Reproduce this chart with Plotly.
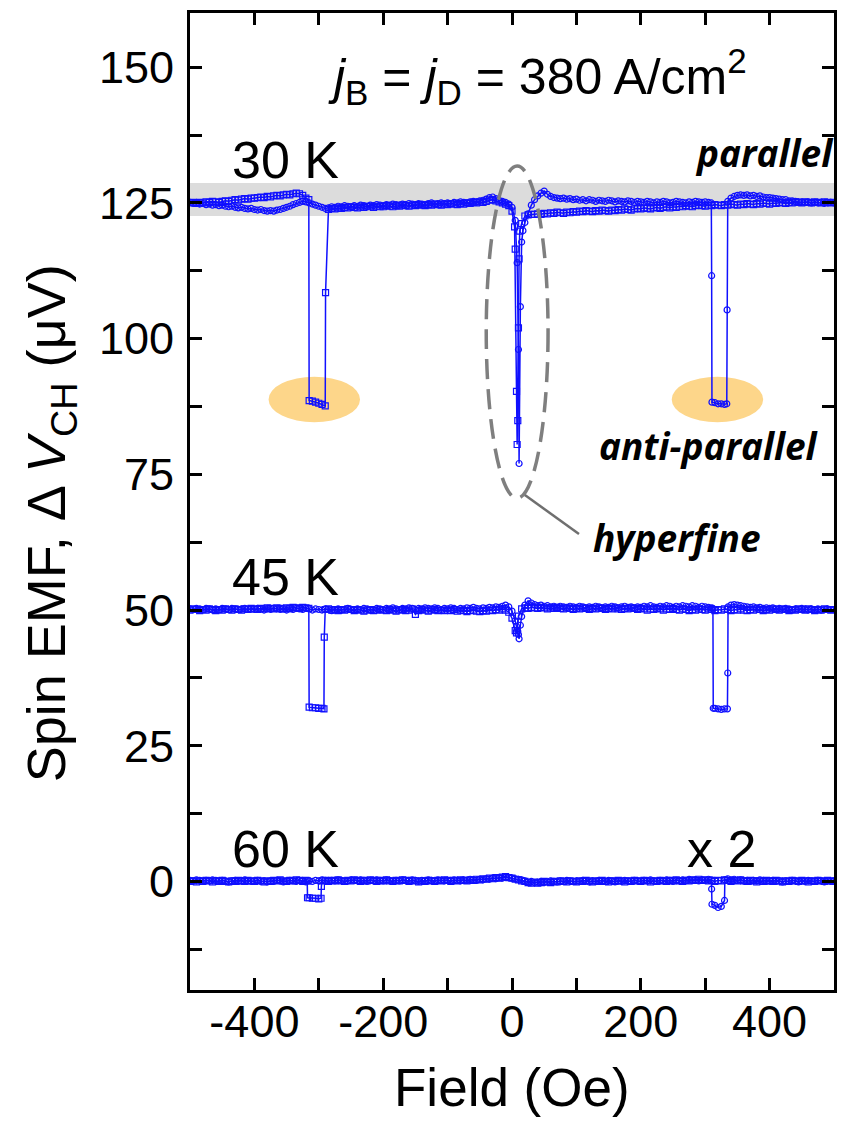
import plotly.graph_objects as go

# Field set-points of each sweep (Oe)
FIELD = [
    -500, -495, -490, -485, -480, -475, -470, -465, -460, -455, -450, -445, -440, -435, -430, -425, -420, -415, -410, -405,
    -400, -395, -390, -385, -380, -375, -370, -365, -360, -355, -350, -345, -340, -335, -330, -325, -320, -315, -310, -305,
    -300, -295, -290, -285, -280, -275, -270, -265, -260, -255, -250, -245, -240, -235, -230, -225, -220, -215, -210, -205,
    -200, -195, -190, -185, -180, -175, -170, -165, -160, -155, -150, -145, -140, -135, -130, -125, -120, -115, -110, -105,
    -100, -95, -90, -85, -80, -75, -70, -65, -60, -55, -50, -45, -40, -35, -30, -25, -20, -15, -10, -5,
    0, 5, 10, 15, 20, 25, 30, 35, 40, 45, 50, 55, 60, 65, 70, 75, 80, 85, 90, 95,
    100, 105, 110, 115, 120, 125, 130, 135, 140, 145, 150, 155, 160, 165, 170, 175, 180, 185, 190, 195,
    200, 205, 210, 215, 220, 225, 230, 235, 240, 245, 250, 255, 260, 265, 270, 275, 280, 285, 290, 295,
    300, 305, 310, 315, 320, 325, 330, 335, 340, 345, 350, 355, 360, 365, 370, 375, 380, 385, 390, 395,
    400, 405, 410, 415, 420, 425, 430, 435, 440, 445, 450, 455, 460, 465, 470, 475, 480, 485, 490, 495,
    500,
]

# ---- 30 K (offset 125 uV) ----
UP_30K = [
    125.1, 124.9, 125.0, 124.8, 124.9, 124.7, 124.8, 124.6, 124.7, 124.5, 124.6, 124.4, 124.3, 124.4, 124.2, 124.1, 124.2, 124.0, 123.9, 124.0,
    123.8, 123.7, 123.8, 123.6, 123.5, 123.6, 123.5, 123.7, 123.8, 124.0, 124.2, 124.4, 124.7, 124.9, 125.1, 125.3, 125.2, 125.0, 124.8, 124.6,
    124.4, 124.2, 124.0, 124.1, 124.3, 124.2, 124.4, 124.3, 124.5, 124.4, 124.3, 124.5, 124.4, 124.6, 124.5, 124.4, 124.6, 124.5, 124.7, 124.6,
    124.5, 124.7, 124.6, 124.8, 124.7, 124.6, 124.8, 124.7, 124.9, 124.8, 124.7, 124.9, 124.8, 124.7, 124.9, 125.0, 124.8, 124.9, 125.0, 124.9,
    125.0, 124.9, 125.1, 125.0, 125.2, 125.1, 125.0, 125.2, 125.3, 125.2, 125.4, 125.5, 125.7, 126.0, 126.1, 125.8, 125.5, 125.3, 125.1, 124.8,
    124.2, 121.8, 98.0, 117.8, 121.4, 123.0, 124.6, 125.6, 126.3, 126.8, 127.2, 126.6, 126.2, 126.0, 125.9, 125.8, 125.9, 125.7, 125.8, 125.6,
    125.7, 125.5, 125.6, 125.4, 125.6, 125.5, 125.3, 125.5, 125.4, 125.3, 125.5, 125.4, 125.2, 125.4, 125.3, 125.2, 125.4, 125.3, 125.1, 125.3,
    125.2, 125.1, 125.3, 125.2, 125.0, 125.2, 125.1, 125.3, 125.2, 125.0, 125.1, 125.3, 125.2, 125.1, 125.0, 125.2, 125.1, 125.3, 125.2, 125.1,
    125.2, 125.1, 111.6, 88.2, 88.0, 88.0, 87.9, 125.3, 125.9, 126.2, 126.4, 126.5, 126.4, 126.5, 126.3, 126.4, 126.2, 126.3, 126.1, 126.0,
    126.0, 125.9, 125.8, 125.7, 125.6, 125.6, 125.4, 125.4, 125.3, 125.2, 125.2, 125.1, 125.2, 125.0, 125.1, 125.0, 125.1, 124.9, 125.0, 125.1,
    125.0,
]
UP_30K_EXTRA_X = [8, 11, 13, 17, 309.5, 310.5, 333.5, 334]
UP_30K_EXTRA_Y = [114.0, 77.0, 105.9, 119.9, 125.0, 88.3, 88.0, 105.3]

DOWN_30K = [
    125.0, 125.1, 124.9, 125.1, 125.0, 125.2, 125.1, 125.3, 125.2, 125.1, 125.3, 125.4, 125.3, 125.5, 125.6, 125.5, 125.7, 125.8, 125.7, 125.9,
    125.9, 126.0, 126.1, 126.0, 126.2, 126.1, 126.3, 126.4, 126.3, 126.5, 126.6, 126.5, 126.7, 126.8, 126.7, 126.4, 125.9, 88.6, 88.5, 88.3,
    88.1, 87.9, 87.6, 123.8, 124.0, 123.9, 124.1, 124.0, 124.2, 124.1, 124.3, 124.2, 124.1, 124.3, 124.2, 124.4, 124.3, 124.2, 124.4, 124.3,
    124.3, 124.5, 124.4, 124.3, 124.5, 124.4, 124.6, 124.5, 124.4, 124.6, 124.5, 124.7, 124.6, 124.5, 124.7, 124.6, 124.8, 124.7, 124.6, 124.8,
    124.7, 124.9, 124.8, 124.7, 124.9, 124.8, 125.0, 124.9, 125.1, 125.0, 125.2, 125.1, 125.3, 125.5, 125.6, 125.4, 125.2, 125.0, 124.8, 124.5,
    123.5, 116.5, 102.0, 121.2, 122.6, 122.8, 122.9, 122.9, 123.0, 122.9, 123.1, 123.0, 123.2, 123.1, 123.3, 123.2, 123.1, 123.3, 123.2, 123.4,
    123.3, 123.5, 123.4, 123.6, 123.5, 123.4, 123.6, 123.5, 123.7, 123.6, 123.5, 123.7, 123.6, 123.8, 123.7, 123.9, 123.8, 123.7, 123.9, 124.0,
    123.9, 124.1, 124.0, 123.9, 124.1, 124.2, 124.0, 124.2, 124.3, 124.1, 124.3, 124.2, 124.4, 124.3, 124.5, 124.4, 124.3, 124.5, 124.6, 124.5,
    124.4, 124.6, 124.5, 124.7, 124.6, 124.5, 124.7, 124.6, 124.8, 124.7, 124.6, 124.8, 124.7, 124.9, 124.8, 124.7, 124.9, 124.8, 125.0, 124.9,
    124.8, 125.0, 124.9, 125.1, 125.0, 124.9, 125.1, 125.0, 125.2, 125.1, 125.0, 125.2, 125.1, 125.0, 125.2, 125.1, 125.0, 125.2, 125.1, 125.0,
    125.1,
]
DOWN_30K_EXTRA_X = [-289.5, -315.5, 12, 11, 9, 8, 7, 4]
DOWN_30K_EXTRA_Y = [108.5, 125.6, 119.8, 114.7, 84.9, 80.5, 90.3, 120.6]

# ---- 45 K (offset 50 uV) ----
UP_45K = [
    50.2, 50.1, 50.3, 50.2, 50.1, 50.3, 50.2, 50.0, 50.2, 50.1, 50.3, 50.2, 50.1, 50.3, 50.2, 50.1, 50.2, 50.3, 50.1, 50.2,
    50.1, 50.3, 50.2, 50.0, 50.2, 50.1, 50.3, 50.2, 50.1, 50.2, 50.0, 50.2, 50.1, 50.3, 50.2, 50.1, 50.3, 50.2, 50.0, 50.2,
    50.1, 50.0, 50.2, 50.1, 49.9, 50.1, 50.2, 50.0, 50.1, 50.3, 50.1, 50.0, 50.2, 50.1, 50.3, 50.2, 50.0, 50.1, 50.3, 50.2,
    50.1, 50.3, 50.2, 50.4, 50.2, 50.1, 50.3, 50.2, 50.4, 50.3, 50.1, 50.3, 50.2, 50.4, 50.3, 50.2, 50.4, 50.3, 50.1, 50.3,
    50.2, 50.4, 50.3, 50.1, 50.3, 50.2, 50.4, 50.3, 50.5, 50.3, 50.2, 50.4, 50.3, 50.5, 50.4, 50.6, 50.5, 50.7, 50.9, 50.6,
    49.8, 48.0, 45.5, 48.8, 50.9, 51.7, 51.3, 51.0, 50.8, 50.9, 50.7, 50.8, 50.6, 50.7, 50.5, 50.7, 50.6, 50.5, 50.7, 50.6,
    50.5, 50.7, 50.6, 50.4, 50.6, 50.5, 50.7, 50.6, 50.4, 50.6, 50.5, 50.7, 50.6, 50.4, 50.6, 50.7, 50.5, 50.6, 50.4, 50.6,
    50.5, 50.7, 50.6, 50.8, 50.6, 50.5, 50.7, 50.6, 50.8, 50.7, 50.5, 50.7, 50.6, 50.8, 50.7, 50.6, 50.8, 50.7, 50.5, 50.7,
    50.6, 50.5, 50.4, 31.9, 31.8, 31.7, 31.8, 38.4, 50.9, 51.0, 50.9, 50.8, 50.7, 50.6, 50.5, 50.6, 50.4, 50.5, 50.3, 50.4,
    50.3, 50.4, 50.2, 50.3, 50.1, 50.3, 50.2, 50.0, 50.2, 50.1, 50.3, 50.2, 50.0, 50.2, 50.1, 50.2, 50.0, 50.1, 50.2, 50.1,
    50.1,
]
UP_45K_EXTRA_X = [7, 9, 11, 13, 312, 312.5, 334.5, 335.5]
UP_45K_EXTRA_Y = [47.0, 46.1, 44.7, 47.2, 50.3, 31.9, 31.8, 50.6]

DOWN_45K = [
    50.0, 50.2, 50.1, 49.9, 50.1, 50.0, 50.2, 50.1, 49.9, 50.1, 50.0, 50.2, 50.1, 50.0, 50.2, 50.1, 50.0, 50.2, 50.1, 50.3,
    50.2, 50.1, 50.3, 50.2, 50.4, 50.3, 50.2, 50.4, 50.3, 50.2, 50.4, 50.3, 50.5, 50.4, 50.3, 50.5, 50.4, 32.1, 32.0, 32.0,
    31.9, 31.9, 50.1, 50.2, 50.0, 50.1, 49.9, 50.1, 50.0, 50.2, 50.1, 49.9, 50.1, 50.0, 49.8, 50.0, 50.1, 49.9, 50.0, 50.1,
    50.0, 49.9, 50.1, 50.0, 49.8, 50.0, 50.1, 49.9, 50.0, 50.2, 49.2, 49.9, 50.1, 50.0, 49.8, 50.0, 50.1, 49.9, 50.0, 49.9,
    50.0, 49.9, 50.1, 49.8, 50.0, 49.9, 49.7, 49.9, 50.0, 49.8, 49.7, 49.9, 49.8, 50.0, 49.9, 50.1, 50.0, 50.2, 50.0, 49.6,
    48.5, 46.2, 48.9, 50.2, 50.4, 50.3, 50.5, 50.4, 50.3, 50.5, 50.4, 50.2, 50.4, 50.3, 50.5, 50.3, 50.2, 50.4, 50.3, 50.1,
    50.3, 50.2, 50.4, 50.3, 50.1, 50.3, 50.2, 50.4, 50.3, 50.1, 50.3, 50.2, 50.4, 50.2, 50.1, 50.3, 50.2, 50.4, 50.3, 50.1,
    50.3, 50.2, 50.0, 50.2, 50.1, 50.3, 50.2, 50.0, 50.2, 50.1, 50.3, 50.1, 50.0, 50.2, 50.1, 49.9, 50.1, 50.0, 50.2, 50.1,
    50.0, 50.2, 50.1, 49.9, 50.1, 50.0, 50.2, 50.1, 49.9, 50.1, 50.0, 50.2, 50.0, 49.9, 50.1, 50.0, 50.2, 50.1, 49.9, 50.1,
    50.0, 50.2, 50.1, 50.0, 50.2, 50.1, 49.9, 50.1, 50.0, 50.2, 50.1, 50.0, 50.2, 50.1, 49.9, 50.1, 50.0, 50.2, 50.1, 50.0,
    50.1,
]
DOWN_45K_EXTRA_X = [-291.5, -292, -315.5, 7]
DOWN_45K_EXTRA_Y = [45.0, 31.8, 50.3, 45.8]

# ---- 60 K (plotted x 2) ----
UP_60K = [
    0.2, 0.1, 0.3, 0.2, 0.0, 0.2, 0.1, 0.3, 0.2, 0.0, 0.2, 0.1, -0.1, 0.1, 0.2, 0.0, 0.1, 0.3, 0.1, 0.0,
    0.1, 0.2, 0.0, 0.1, -0.1, 0.1, 0.0, 0.2, 0.1, -0.1, 0.0, 0.2, 0.1, 0.0, 0.2, 0.1, -0.1, 0.1, 0.0, 0.2,
    0.1, 0.3, 0.2, 0.0, 0.2, 0.1, 0.3, 0.2, 0.0, 0.1, 0.3, 0.2, 0.1, 0.3, 0.2, 0.0, 0.2, 0.1, 0.3, 0.2,
    0.1, 0.3, 0.2, 0.0, 0.2, 0.1, 0.3, 0.2, 0.1, 0.3, 0.2, 0.0, 0.2, 0.1, 0.3, 0.2, 0.1, 0.3, 0.2, 0.1,
    0.2, 0.1, 0.3, 0.2, 0.1, 0.3, 0.2, 0.4, 0.3, 0.2, 0.4, 0.3, 0.5, 0.4, 0.6, 0.5, 0.7, 0.6, 0.8, 0.7,
    0.6, 0.5, 0.4, 0.3, 0.1, -0.1, 0.0, -0.2, -0.1, 0.0, -0.2, -0.1, 0.1, 0.0, -0.1, 0.1, 0.0, 0.2, 0.1, 0.0,
    0.1, 0.0, 0.2, 0.1, -0.1, 0.1, 0.0, 0.2, 0.1, 0.0, 0.2, 0.1, -0.1, 0.1, 0.0, 0.2, 0.1, 0.0, 0.2, 0.1,
    0.0, 0.2, 0.1, 0.3, 0.1, 0.0, 0.2, 0.1, 0.3, 0.2, 0.0, 0.2, 0.1, 0.3, 0.2, 0.4, 0.2, 0.3, 0.1, 0.3,
    0.2, 0.4, -1.4, -4.4, -4.8, -4.6, -3.5, 0.5, 0.3, 0.4, 0.2, 0.3, 0.1, 0.2, 0.0, 0.2, 0.1, 0.3, 0.2, 0.0,
    0.1, 0.2, 0.0, 0.1, -0.1, 0.1, 0.0, 0.2, 0.1, -0.1, 0.1, 0.0, 0.2, 0.1, 0.0, 0.2, 0.1, -0.1, 0.1, 0.0,
    0.1,
]
UP_60K_EXTRA_X = [309.5, 310.5, 330.5]
UP_60K_EXTRA_Y = [0.3, -4.2, 0.3]

DOWN_60K = [
    0.0, 0.1, -0.1, 0.1, 0.0, 0.2, 0.1, -0.1, 0.1, 0.0, 0.2, 0.0, -0.1, 0.1, 0.0, 0.2, 0.1, 0.0, 0.2, 0.1,
    0.0, 0.2, 0.1, -0.1, 0.1, 0.0, 0.2, 0.1, 0.3, 0.1, 0.0, 0.2, 0.1, 0.3, 0.2, 0.0, 0.2, -3.0, -3.1, -3.1,
    -3.2, 0.1, 0.2, 0.0, 0.2, 0.1, 0.3, 0.1, 0.0, 0.2, 0.1, 0.3, 0.2, 0.0, 0.2, 0.1, 0.3, 0.2, 0.0, 0.2,
    0.1, 0.3, 0.1, 0.0, 0.2, 0.1, 0.3, 0.2, 0.0, 0.2, 0.1, -0.1, 0.1, 0.0, 0.2, 0.1, 0.0, 0.2, 0.1, 0.3,
    0.2, 0.0, 0.2, 0.1, 0.3, 0.2, 0.1, 0.3, 0.2, 0.4, 0.3, 0.5, 0.4, 0.6, 0.5, 0.7, 0.6, 0.8, 0.9, 0.7,
    0.6, 0.4, 0.3, 0.1, 0.0, -0.2, -0.3, -0.1, -0.3, -0.2, 0.0, -0.1, -0.2, 0.0, -0.1, 0.1, 0.0, -0.1, 0.1, 0.0,
    -0.1, 0.1, 0.0, 0.2, 0.1, -0.1, 0.1, 0.0, 0.2, 0.0, -0.1, 0.1, 0.0, 0.2, 0.1, -0.1, 0.1, 0.0, 0.2, 0.1,
    0.0, 0.2, 0.1, -0.1, 0.1, 0.0, 0.2, 0.1, 0.0, 0.2, 0.1, 0.3, 0.1, 0.0, 0.2, 0.1, 0.3, 0.2, 0.4, 0.2,
    0.3, 0.1, 0.2, 0.0, 0.2, 0.1, 0.3, 0.2, 0.0, 0.2, 0.1, 0.3, 0.1, 0.0, 0.2, 0.1, -0.1, 0.1, 0.0, 0.2,
    0.1, 0.0, 0.2, 0.1, -0.1, 0.1, 0.0, 0.2, 0.1, 0.0, 0.2, 0.1, -0.1, 0.1, 0.0, 0.2, 0.1, 0.0, 0.2, 0.1,
    0.0,
]
DOWN_60K_EXTRA_X = [-296, -296.5, -317.5, -318]
DOWN_60K_EXTRA_Y = [-0.9, -3.1, -3.0, 0.1]

X_TICKS = [-400, -200, 0, 200, 400]
X_TICK_TEXT = ["-400", "-200", "0", "200", "400"]
X_MINOR = [-300, -100, 100, 300]
Y_TICKS = [0, 25, 50, 75, 100, 125, 150]
Y_MINOR = [-12.5, 12.5, 37.5, 62.5, 87.5, 112.5, 137.5]

BLUE = "#1010ff"
FONT = "Liberation Sans, Arial, Helvetica, sans-serif"
LABEL_FONT = "Open Sans, Noto Sans, sans-serif"


def sweep(base, extra_x, extra_y, descending):
    """Merge set-point readings with the extra readings taken near the jumps,
    ordered in the direction the field was swept."""
    pts = list(zip(FIELD, base)) + list(zip(extra_x, extra_y))
    pts.sort(key=lambda p: p[0], reverse=descending)
    return [p[0] for p in pts], [p[1] for p in pts]


fig = go.Figure()

series = [
    (DOWN_30K, DOWN_30K_EXTRA_X, DOWN_30K_EXTRA_Y, True, "square-open"),
    (UP_30K, UP_30K_EXTRA_X, UP_30K_EXTRA_Y, False, "circle-open"),
    (DOWN_45K, DOWN_45K_EXTRA_X, DOWN_45K_EXTRA_Y, True, "square-open"),
    (UP_45K, UP_45K_EXTRA_X, UP_45K_EXTRA_Y, False, "circle-open"),
    (DOWN_60K, DOWN_60K_EXTRA_X, DOWN_60K_EXTRA_Y, True, "square-open"),
    (UP_60K, UP_60K_EXTRA_X, UP_60K_EXTRA_Y, False, "circle-open"),
]
for base, ex, ey, desc, sym in series:
    assert len(base) == len(FIELD)
    xs, ys = sweep(base, ex, ey, desc)
    fig.add_trace(go.Scatter(
        x=xs, y=ys, mode="lines+markers",
        line=dict(color=BLUE, width=1.5),
        marker=dict(symbol=sym, size=6, color=BLUE, line=dict(width=1.2)),
        showlegend=False, hoverinfo="skip",
    ))

shapes = [
    # parallel-state band
    dict(type="rect", xref="x", yref="y", x0=-500, x1=500, y0=122.6, y1=128.7,
         fillcolor="#dcdcdc", line=dict(width=0), layer="below"),
    # anti-parallel states
    dict(type="circle", xref="x", yref="y", x0=-378, x1=-236, y0=84.6, y1=93.0,
         fillcolor="#fdd68a", line=dict(width=0), layer="below"),
    dict(type="circle", xref="x", yref="y", x0=248, x1=390, y0=84.6, y1=93.0,
         fillcolor="#fdd68a", line=dict(width=0), layer="below"),
    # hyperfine feature
    dict(type="circle", xref="x", yref="y", x0=-40, x1=56, y0=70.6, y1=131.8,
         fillcolor="rgba(0,0,0,0)", line=dict(color="#7f7f7f", width=3.5, dash="20px,10px"),
         layer="above"),
    dict(type="line", xref="x", yref="y", x0=20, y0=71.2, x1=104, y1=64.0,
         line=dict(color="#6f6f6f", width=2.5), layer="above"),
]

annotations = [
    dict(x=-352, y=133.0, text="30 K", font=dict(size=52, family=FONT, color="black")),
    dict(x=-352, y=56.0, text="45 K", font=dict(size=52, family=FONT, color="black")),
    dict(x=-352, y=6.0, text="60 K", font=dict(size=52, family=FONT, color="black")),
    dict(x=326, y=6.0, text="x 2", font=dict(size=52, family=FONT, color="black")),
    dict(x=39, y=148.3,
         text="<i>j</i><sub>B</sub> = <i>j</i><sub>D</sub> = 380 A/cm<sup>2</sup>",
         font=dict(size=50, family=FONT, color="black")),
    dict(x=392, y=134.3, text="<b><i>parallel</i></b>",
         font=dict(size=37, family=LABEL_FONT, color="black")),
    dict(x=306, y=80.4, text="<b><i>anti-parallel</i></b>",
         font=dict(size=37, family=LABEL_FONT, color="black")),
    dict(x=256, y=63.4, text="<b><i>hyperfine</i></b>",
         font=dict(size=37, family=LABEL_FONT, color="black")),
]
for a in annotations:
    a.update(xref="x", yref="y", showarrow=False, xanchor="center", yanchor="middle")

# axis titles
annotations.append(dict(
    xref="paper", yref="paper", x=0.5, y=-0.1, text="Field (Oe)", showarrow=False,
    xanchor="center", yanchor="middle", font=dict(size=53, family=FONT, color="black")))
annotations.append(dict(
    xref="paper", yref="paper", x=-0.217, y=0.478,
    text="Spin EMF, \u0394 <i>V</i><sub>CH</sub> (\u03bcV)", showarrow=False, textangle=-90,
    xanchor="center", yanchor="middle", font=dict(size=54, family=FONT, color="black")))

axis_common = dict(
    showline=True, linewidth=3, linecolor="black", mirror="ticks",
    ticks="inside", ticklen=12, tickwidth=3, tickcolor="black",
    showgrid=False, zeroline=False,
    tickfont=dict(size=45, family=FONT, color="black"),
)

fig.update_layout(
    width=847, height=1131,
    margin=dict(l=190, r=12, t=10, b=141),
    paper_bgcolor="white", plot_bgcolor="white",
    shapes=shapes, annotations=annotations,
    xaxis=dict(range=[-500, 500], tickmode="array", tickvals=X_TICKS, ticktext=X_TICK_TEXT,
               minor=dict(tickmode="array", tickvals=X_MINOR, ticks="inside", ticklen=12,
                          tickwidth=3, tickcolor="black"),
               ticklabelstandoff=-10, **axis_common),
    yaxis=dict(range=[-20, 160], tickmode="array", tickvals=Y_TICKS,
               minor=dict(tickmode="array", tickvals=Y_MINOR, ticks="inside", ticklen=12,
                          tickwidth=3, tickcolor="black"),
               ticklabelstandoff=4, **axis_common),
)

fig.write_html("out.html")
